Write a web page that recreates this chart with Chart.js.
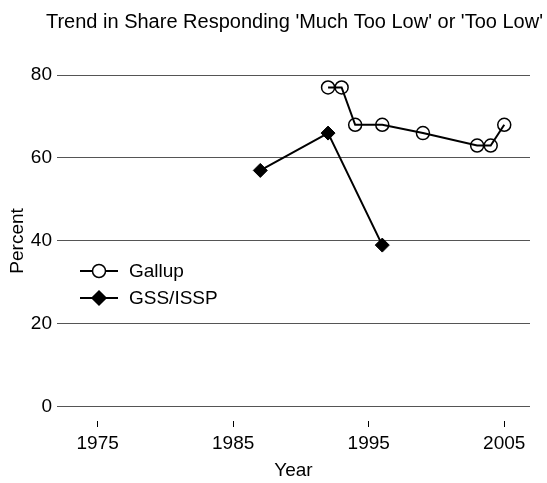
<!DOCTYPE html>
<html>
<head>
<meta charset="utf-8">
<script src="https://cdn.jsdelivr.net/npm/chart.js@4.4.0/dist/chart.umd.min.js"></script>
<style>
  html, body { margin: 0; padding: 0; background: #fff; }
</style>
</head>
<body>
<canvas id="my-chart" width="547" height="483"></canvas>
<script>
// data
var gallupYears = [1992, 1993, 1994, 1996, 1999, 2003, 2004, 2005];
var gallupValues = [77, 77, 68, 68, 66, 63, 63, 68];
var gssYears = [1987, 1992, 1996];
var gssValues = [57, 66, 39];
var seriesNames = ['Gallup', 'GSS/ISSP'];
var xTicks = [1975, 1985, 1995, 2005];
var yTicks = [0, 20, 40, 60, 80];
var titleText = "Trend in Share Responding 'Much Too Low' or 'Too Low'";

var FONT = '"Liberation Sans", Arial, Helvetica, sans-serif';

function toPoints(xs, ys) {
  return xs.map(function (x, i) { return { x: x, y: ys[i] }; });
}

function drawMarker(ctx, style, x, y) {
  ctx.save();
  ctx.lineWidth = 1.5;
  ctx.strokeStyle = '#000';
  ctx.fillStyle = style === 'circle' ? '#fff' : '#000';
  ctx.beginPath();
  if (style === 'circle') {
    ctx.arc(x, y, 6.5, 0, Math.PI * 2);
  } else {
    ctx.moveTo(x, y - 7);
    ctx.lineTo(x + 7, y);
    ctx.lineTo(x, y + 7);
    ctx.lineTo(x - 7, y);
    ctx.closePath();
  }
  ctx.fill();
  ctx.stroke();
  ctx.restore();
}

// title, y title and the legend inside the plot
var extras = {
  id: 'extras',
  afterDraw: function (chart) {
    var ctx = chart.ctx;
    var y = chart.scales.y;
    ctx.save();
    ctx.fillStyle = '#000';
    ctx.font = '20px ' + FONT;
    ctx.textAlign = 'right';
    ctx.textBaseline = 'middle';
    ctx.fillText(titleText, 543, 22);

    ctx.font = '19px ' + FONT;
    ctx.save();
    ctx.translate(18, (y.getPixelForValue(0) + y.getPixelForValue(80)) / 2);
    ctx.rotate(-Math.PI / 2);
    ctx.textAlign = 'center';
    ctx.fillText('Percent', 0, 0);
    ctx.restore();

    var styles = ['circle', 'diamond'];
    var rows = [271, 298];
    ctx.textAlign = 'left';
    for (var i = 0; i < seriesNames.length; i++) {
      ctx.beginPath();
      ctx.lineWidth = 2;
      ctx.strokeStyle = '#000';
      ctx.moveTo(80, rows[i]);
      ctx.lineTo(118, rows[i]);
      ctx.stroke();
      drawMarker(ctx, styles[i], 99, rows[i]);
      ctx.fillStyle = '#000';
      ctx.fillText(seriesNames[i], 129, rows[i] + 1);
    }
    ctx.restore();
  }
};

var chart1 = document.getElementById('my-chart').getContext('2d');

var myChart = new Chart(chart1, {
  type: 'line',
  data: {
    datasets: [{
      label: seriesNames[0],
      data: toPoints(gallupYears, gallupValues),
      borderColor: '#000',
      borderWidth: 2,
      pointStyle: 'circle',
      pointRadius: 6.5,
      pointBorderWidth: 1.5,
      pointBackgroundColor: 'rgba(255,255,255,0)',
      pointBorderColor: '#000',
      tension: 0
    }, {
      label: seriesNames[1],
      data: toPoints(gssYears, gssValues),
      borderColor: '#000',
      borderWidth: 2,
      pointStyle: 'rectRot',
      pointRadius: 7,
      pointBorderWidth: 1,
      pointBackgroundColor: '#000',
      pointBorderColor: '#000',
      tension: 0
    }]
  },
  options: {
    responsive: false,
    animation: false,
    clip: false,
    layout: { padding: { top: 75, right: 17, left: 0, bottom: 0 } },
    plugins: {
      legend: { display: false },
      title: { display: false },
      tooltip: { enabled: false }
    },
    scales: {
      x: {
        type: 'linear',
        min: 1972,
        max: 2006.9,
        afterBuildTicks: function (axis) {
          axis.ticks = xTicks.map(function (v) { return { value: v }; });
        },
        afterFit: function (axis) { axis.height = 62; },
        border: { display: false },
        grid: { drawOnChartArea: false, tickLength: 6, color: '#000', tickWidth: 1 },
        ticks: {
          color: '#000',
          padding: 5,
          maxRotation: 0,
          font: { family: FONT, size: 19 },
          callback: function (v) { return String(v); }
        },
        title: {
          display: true,
          text: 'Year',
          color: '#000',
          font: { family: FONT, size: 19 },
          padding: { top: 0, bottom: 1 }
        }
      },
      y: {
        min: -3.4,
        max: 80,
        afterBuildTicks: function (axis) {
          axis.ticks = yTicks.map(function (v) { return { value: v }; });
        },
        afterFit: function (axis) { axis.width = 57; },
        border: { display: false },
        grid: { color: '#555', lineWidth: 1, tickLength: 0 },
        ticks: {
          color: '#000',
          padding: 5,
          font: { family: FONT, size: 19 }
        }
      }
    }
  },
  plugins: [extras]
});
</script>
</body>
</html>
